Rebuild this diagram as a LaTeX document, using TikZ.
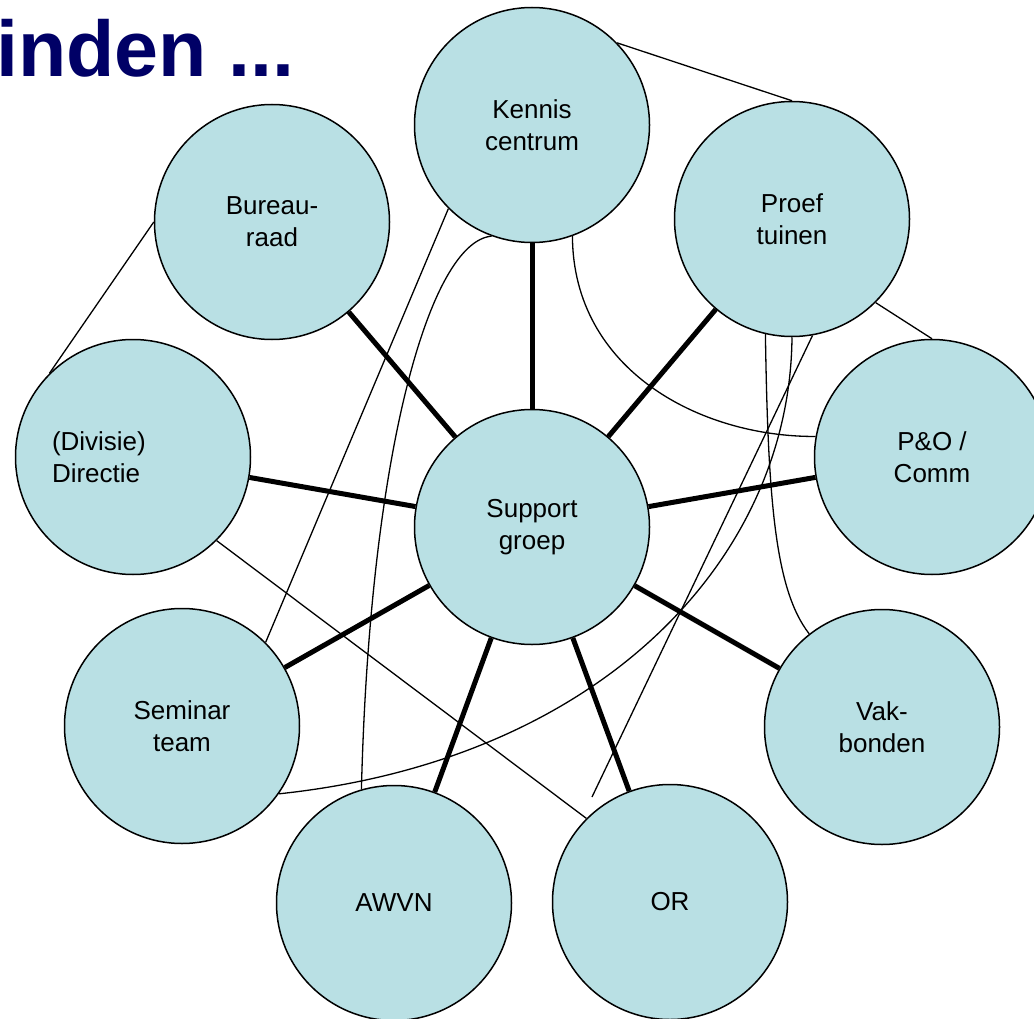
\documentclass[tikz,border=0pt]{standalone}
\usepackage{fontspec}
\setmainfont{Liberation Sans}
\definecolor{circfill}{RGB}{185,224,228}
\definecolor{titlenavy}{RGB}{0,0,102}
\tikzset{
  circ/.style={circle, draw=black, line width=1.5pt, fill=circfill, minimum size=235pt, inner sep=0pt,
    align=center, font=\fontsize{26}{32}\selectfont},
  thinline/.style={line width=1.3pt, draw=black},
  thickline/.style={line width=5pt, draw=black},
}
\begin{document}
\begin{tikzpicture}[x=1pt,y=-1pt]
\useasboundingbox (0,0) rectangle (1034,1019);
\clip (0,0) rectangle (1034,1019);
\fill[white] (0,0) rectangle (1034,1019);
\node[anchor=base west, text=titlenavy, font=\fontsize{79}{86}\selectfont\bfseries, inner sep=0pt] (title) at (-4,77) {inden ...};

\node[circ] (ken) at (532,125) {Kennis\\centrum};
\node[circ] (bur) at (272,222) {Bureau-\\raad};
\node[circ] (proef) at (792,219) {Proef\\tuinen};
\node[circ, text width=162pt, align=left] (dir) at (133,457) {(Divisie)\\Directie};
\node[circ] (sup) at (532,527) {Support\\groep};
\node[circ] (po) at (932,457) {P\&O /\\Comm};
\node[circ] (sem) at (182,726) {Seminar\\team};
\node[circ] (vak) at (882,727) {Vak-\\bonden};
\node[circ] (awvn) at (394,903) {AWVN};
\node[circ] (or) at (670,902) {OR};
\coordinate (free) at (592,797);

% thick spokes
\foreach \n in {ken,bur,proef,dir,po,sem,vak,awvn,or}
  \draw[thickline] (sup) -- (\n);

% thin connectors
\draw[thinline] (ken.44) -- (proef.90);
\draw[thinline] (bur.180) -- (dir.135);
\draw[thinline] (proef.-45) -- (po.90);
\draw[thinline] (dir.315) -- (or.135);
\draw[thinline] (ken.225) -- (sem.45);
\draw[thinline] (proef.-80) -- (free);
\draw[thinline] (ken.250) .. controls (430,242) and (370,450) .. (awvn.106);
\draw[thinline] (ken.290) .. controls (573,370) and (700,437) .. (po.170);
\draw[thinline] (proef.257) .. controls (768,500) and (775,590) .. (vak.128);
\draw[thinline] (proef.270) .. controls (790,560) and (600,760) .. (sem.-35);
\end{tikzpicture}
\end{document}
